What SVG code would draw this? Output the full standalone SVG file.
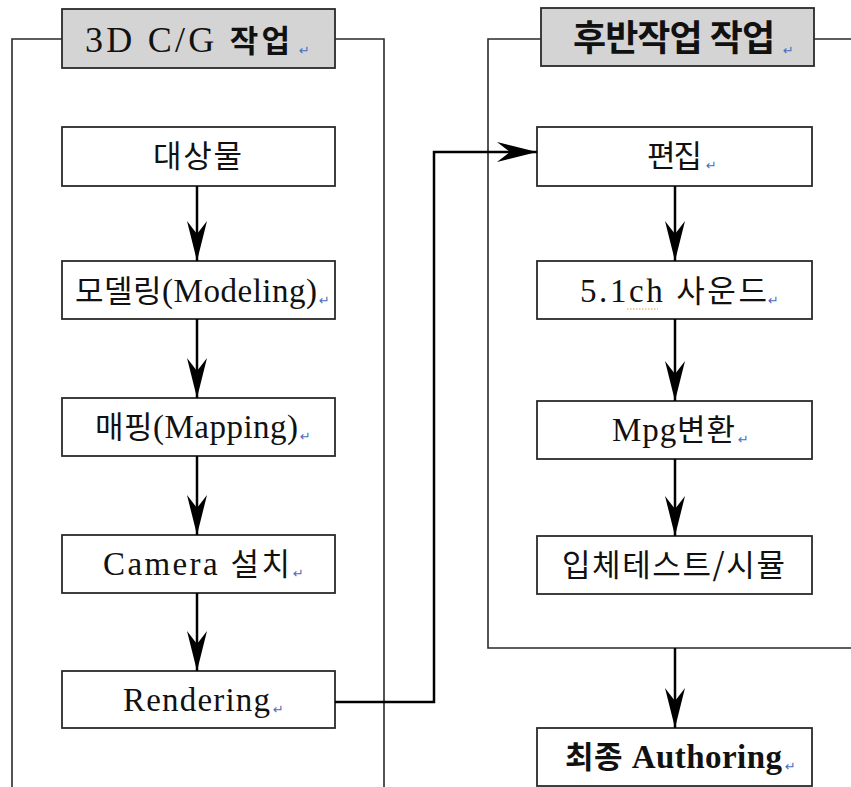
<svg xmlns="http://www.w3.org/2000/svg" width="851" height="787" viewBox="0 0 851 787">
  <style>
    .frame { fill: none; stroke: #2a2a2a; stroke-width: 1.6; }
    .box { fill: #ffffff; stroke: #2a2a2a; stroke-width: 1.8; }
    .title { fill: #d4d4d4; stroke: #2a2a2a; stroke-width: 1.8; }
    .lbl { font-family: "Liberation Serif", "Noto Sans CJK KR", serif; font-size: 33px; fill: #111; }
    .ko { font-family: "Noto Sans CJK KR", sans-serif; font-size: 31px; }
    .ttl { font-family: "Liberation Serif", "Noto Sans CJK KR", serif; font-size: 36px; fill: #111; }
    .ret { font-family: "DejaVu Sans", sans-serif; font-size: 13px; fill: #4a6cc0; }
    .flow { fill: none; stroke: #000; stroke-width: 2.5; }
  </style>
  <defs>
    <marker id="head" markerUnits="userSpaceOnUse" markerWidth="42" markerHeight="22" refX="40" refY="11" orient="auto" viewBox="0 0 42 22">
      <path d="M0,1 L40,11 L0,21 L13,11 Z" fill="#000"/>
    </marker>
  </defs>

  <rect width="851" height="787" fill="#ffffff"/>

  <!-- 3D C/G group frame -->
  <g id="group-cg">
    <path class="frame" d="M12,787 V39 H62 M335,39 H384 V787"/>
    <rect class="title" x="62" y="9" width="273" height="59"/>
    <text class="ttl" x="85" y="52" textLength="205" lengthAdjust="spacing">3D C/G <tspan class="ko" font-size="33" font-weight="bold">작업</tspan></text>
    <text class="ret" x="299" y="55">↵</text>
  </g>

  <!-- post-production group frame -->
  <g id="group-post">
    <path class="frame" d="M851,39 H814 M541,39 H488 V648 H851"/>
    <rect class="title" x="541" y="8" width="273" height="58"/>
    <text class="ttl ko" x="573" y="51" font-size="33" font-weight="bold" textLength="202" lengthAdjust="spacing">후반작업 작업</text>
    <text class="ret" x="783" y="55">↵</text>
  </g>

  <!-- left column nodes -->
  <g id="n-object">
    <rect class="box" x="62" y="127" width="273" height="59"/>
    <text class="lbl ko" x="153" y="167" textLength="89" lengthAdjust="spacing">대상물</text>
  </g>
  <g id="n-modeling">
    <rect class="box" x="62" y="261" width="273" height="58"/>
    <text class="lbl" x="75" y="302" textLength="242" lengthAdjust="spacing"><tspan class="ko">모델링</tspan>(Modeling)</text>
    <text class="ret" x="319" y="305">↵</text>
  </g>
  <g id="n-mapping">
    <rect class="box" x="62" y="398" width="273" height="58"/>
    <text class="lbl" x="95" y="438" textLength="203" lengthAdjust="spacing"><tspan class="ko">매핑</tspan>(Mapping)</text>
    <text class="ret" x="300" y="441">↵</text>
  </g>
  <g id="n-camera">
    <rect class="box" x="62" y="535" width="273" height="58"/>
    <text class="lbl" x="103" y="575" textLength="187" lengthAdjust="spacing">Camera <tspan class="ko">설치</tspan></text>
    <text class="ret" x="293" y="578">↵</text>
  </g>
  <g id="n-render">
    <rect class="box" x="62" y="671" width="273" height="57"/>
    <text class="lbl" x="123" y="711" textLength="147" lengthAdjust="spacing">Rendering</text>
    <text class="ret" x="273" y="714">↵</text>
  </g>

  <!-- right column nodes -->
  <g id="n-edit">
    <rect class="box" x="537" y="127" width="275" height="59"/>
    <text class="lbl ko" x="647" y="167" textLength="55" lengthAdjust="spacing">편집</text>
    <text class="ret" x="706" y="170">↵</text>
  </g>
  <g id="n-sound">
    <rect class="box" x="537" y="261" width="275" height="58"/>
    <text class="lbl" x="580" y="302" textLength="187" lengthAdjust="spacing">5.1ch <tspan class="ko">사운드</tspan></text>
    <path d="M627,309 H658" stroke="#d8a040" stroke-width="1.2" stroke-dasharray="1.5,1.5" fill="none"/>
    <text class="ret" x="768" y="305">↵</text>
  </g>
  <g id="n-mpg">
    <rect class="box" x="537" y="401" width="275" height="58"/>
    <text class="lbl" x="612" y="441" textLength="123" lengthAdjust="spacing">Mpg<tspan class="ko">변환</tspan></text>
    <text class="ret" x="738" y="444">↵</text>
  </g>
  <g id="n-test">
    <rect class="box" x="537" y="536" width="275" height="58"/>
    <text class="lbl ko" x="562" y="576" textLength="223" lengthAdjust="spacing">입체테스트/시뮬</text>
  </g>
  <g id="n-authoring">
    <rect class="box" x="537" y="728" width="275" height="58"/>
    <text class="lbl" x="565" y="768" font-weight="bold" textLength="217" lengthAdjust="spacing"><tspan class="ko">최종</tspan> Authoring</text>
    <text class="ret" x="785" y="771">↵</text>
  </g>

  <!-- connectors -->
  <g id="connectors">
    <path class="flow" d="M197,186 V261" marker-end="url(#head)"/>
    <path class="flow" d="M197,319 V398" marker-end="url(#head)"/>
    <path class="flow" d="M197,456 V535" marker-end="url(#head)"/>
    <path class="flow" d="M197,593 V671" marker-end="url(#head)"/>
    <path class="flow" d="M335,702 H434 V152 H537" marker-end="url(#head)"/>
    <path class="flow" d="M675,186 V261" marker-end="url(#head)"/>
    <path class="flow" d="M675,319 V401" marker-end="url(#head)"/>
    <path class="flow" d="M675,459 V536" marker-end="url(#head)"/>
    <path class="flow" d="M675,648 V728" marker-end="url(#head)"/>
  </g>
</svg>
